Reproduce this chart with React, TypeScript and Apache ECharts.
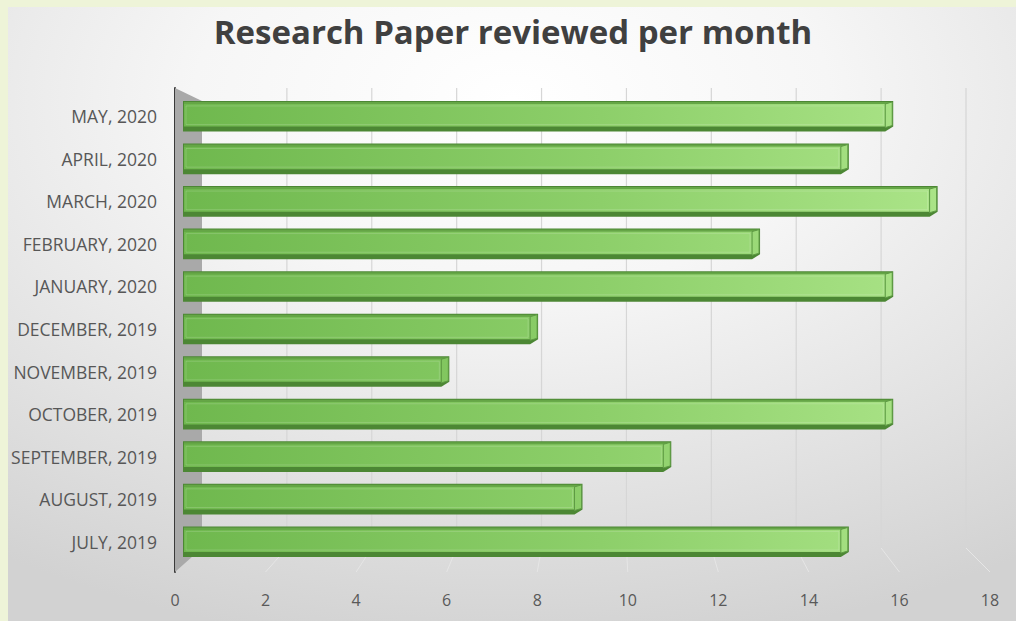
import React, { useEffect, useRef } from "react";
import * as echarts from "echarts";

const TITLE = "Research Paper reviewed per month";
const MONTHS = [
  "JULY, 2019",
  "AUGUST, 2019",
  "SEPTEMBER, 2019",
  "OCTOBER, 2019",
  "NOVEMBER, 2019",
  "DECEMBER, 2019",
  "JANUARY, 2020",
  "FEBRUARY, 2020",
  "MARCH, 2020",
  "APRIL, 2020",
  "MAY, 2020",
];
const PAPERS = [15, 9, 11, 16, 6, 8, 16, 13, 17, 15, 16];
const X_TICKS = [0, 2, 4, 6, 8, 10, 12, 14, 16, 18];
const X_MAX = 18;

const FONT = "'Open Sans', Lato, sans-serif";

export default function App() {
  const ref = useRef<HTMLDivElement>(null);

  useEffect(() => {
    if (!ref.current) return;
    const chart = echarts.init(ref.current, undefined, { renderer: "svg" });

    const option: any = {
      animation: false,
      backgroundColor: "#eef4d8",
      title: {
        text: TITLE,
        left: 508,
        textAlign: "center",
        top: 10,
        textStyle: {
          fontFamily: FONT,
          fontWeight: "bold",
          fontSize: 33,
          color: "#404040",
        },
      },
      graphic: {
        elements: [
          {
            id: "panel",
            type: "rect",
            z: -10,
            silent: true,
            shape: { x: 8, y: 7, width: 1008, height: 614 },
            style: {
              fill: new echarts.graphic.RadialGradient(0.5, 0.15, 0.9, [
                { offset: 0, color: "#ffffff" },
                { offset: 0.35, color: "#f6f6f6" },
                { offset: 0.75, color: "#e0e0e0" },
                { offset: 1, color: "#d2d2d2" },
              ]),
            },
          },
          {
            id: "wall",
            type: "polygon",
            z: 1,
            silent: true,
            shape: {
              points: [
                [175, 88],
                [202, 101],
                [202, 548],
                [175, 572],
              ],
            },
            style: { fill: "#a9a9a9" },
          },
        ],
      },
      grid: [
        // bars + category labels
        { left: 183, right: 34, top: 95, bottom: 58 },
        // front value axis labels + axis line
        { left: 175, right: 26, top: 88, bottom: 49 },
        // back wall gridlines
        { left: 202, right: 50, top: 88, bottom: 73 },
      ],
      xAxis: [
        {
          gridIndex: 0,
          type: "value",
          min: 0,
          max: X_MAX,
          show: false,
        },
        {
          gridIndex: 1,
          type: "value",
          min: 0,
          max: X_MAX,
          interval: 2,
          axisLine: { show: false },
          axisTick: { show: false },
          splitLine: { show: false },
          axisLabel: {
            margin: 20,
            fontFamily: FONT,
            fontSize: 16,
            color: "#595959",
          },
        },
        {
          gridIndex: 2,
          type: "value",
          min: 0,
          max: X_MAX,
          interval: 2,
          show: false,
        },
      ],
      yAxis: [
        {
          gridIndex: 0,
          type: "category",
          data: MONTHS,
          axisLine: { show: false },
          axisTick: { show: false },
          splitLine: { show: false },
          axisLabel: {
            margin: 26,
            fontFamily: FONT,
            fontSize: 17.5,
            color: "#575757",
          },
        },
        {
          gridIndex: 1,
          type: "value",
          min: 0,
          max: 1,
          axisLine: { show: true, lineStyle: { color: "#3a3a3a", width: 2 } },
          axisTick: { show: false },
          axisLabel: { show: false },
          splitLine: { show: false },
        },
        {
          gridIndex: 2,
          type: "value",
          min: 0,
          max: 1,
          show: false,
        },
      ],
      series: [
        {
          type: "custom",
          name: "gridlines",
          xAxisIndex: 2,
          yAxisIndex: 2,
          z: 1,
          silent: true,
          data: X_TICKS.slice(1).map((v) => [v]),
          encode: { x: 0 },
          renderItem: (params: any, api: any) => {
            const v = api.value(0);
            const top = api.coord([v, 1]);
            const bot = api.coord([v, 0]);
            return {
              type: "line",
              shape: { x1: top[0], y1: top[1], x2: bot[0], y2: bot[1] },
              style: { stroke: "#d6d6d6", lineWidth: 1.2 },
            };
          },
        },
        {
          type: "custom",
          name: "Papers",
          xAxisIndex: 0,
          yAxisIndex: 0,
          z: 3,
          data: PAPERS.map((v, i) => [v, MONTHS[i]]),
          encode: { x: 0, y: 1 },
          renderItem: (params: any, api: any) => {
            const v = api.value(0);
            const ci = api.value(1);
            const p1 = api.coord([v, ci]);
            const p0 = api.coord([0, ci]);
            const gStart = p0[0];
            const gEnd = api.coord([X_MAX, ci])[0];
            const band = api.size([0, 1])[1];
            const h = band * 0.72;
            const x0 = p0[0];
            const x1 = p1[0];
            const yc = p1[1];
            const top = yc - h / 2;
            const bot = yc + h / 2;
            const d = 8;
            const t = 3;
            const sh = 5;
            const frontFill = new echarts.graphic.LinearGradient(
              gStart,
              0,
              gEnd - 40,
              0,
              [
                { offset: 0, color: "#6fb84e" },
                { offset: 0.55, color: "#8dcf6a" },
                { offset: 1, color: "#abe488" },
              ],
              true
            );
            return {
              type: "group",
              children: [
                {
                  type: "polygon",
                  shape: {
                    points: [
                      [x0, top],
                      [x1, top],
                      [x1, bot - sh],
                      [x1 - d, bot],
                      [x0, bot],
                    ],
                  },
                  style: { fill: "#4c8734" },
                },
                {
                  type: "polygon",
                  shape: {
                    points: [
                      [x0 + 1, top + 1],
                      [x1 - 1, top + 1],
                      [x1 - d, top + t],
                      [x0 + 1, top + t],
                    ],
                  },
                  style: { fill: "#65a646" },
                },
                {
                  type: "rect",
                  shape: {
                    x: x0 + 1,
                    y: top + t,
                    width: Math.max(0, x1 - d - x0 - 1),
                    height: h - t - sh,
                  },
                  style: { fill: frontFill },
                },
                {
                  type: "rect",
                  shape: {
                    x: x0 + 3,
                    y: top + t + 2,
                    width: Math.max(0, x1 - d - x0 - 5),
                    height: h - t - sh - 4,
                  },
                  style: {
                    fill: "none",
                    stroke: "rgba(255,255,255,0.16)",
                    lineWidth: 1,
                  },
                },
                {
                  type: "polygon",
                  shape: {
                    points: [
                      [x1 - d, top + t],
                      [x1 - 1, top + 1],
                      [x1 - 1, bot - sh - 1],
                      [x1 - d, bot - sh + 1],
                    ],
                  },
                  style: { fill: frontFill, stroke: "#5e9a44", lineWidth: 1 },
                },
              ],
            };
          },
        },
      ],
    };

    chart.setOption(option);

    // floor segments of the gridlines: from the back wall down to the front axis
    try {
      const floor: any[] = [];
      X_TICKS.slice(1).forEach((v, i) => {
        const b = chart.convertToPixel({ xAxisIndex: 2, yAxisIndex: 2 } as any, [v, 0]) as any;
        const f = chart.convertToPixel({ xAxisIndex: 1, yAxisIndex: 1 } as any, [v, 0]) as any;
        if (b && f) {
          floor.push({
            id: "floor" + i,
            type: "line",
            z: 1,
            silent: true,
            shape: { x1: b[0], y1: b[1], x2: f[0], y2: f[1] },
            style: { stroke: "#e6e6e6", lineWidth: 1 },
          });
        }
      });
      if (floor.length) chart.setOption({ graphic: { elements: floor } });
    } catch (e) {
      /* ignore */
    }

    return () => chart.dispose();
  }, []);

  return (
    <div
      ref={ref}
      style={{ position: "fixed", left: 0, top: 0, width: 1016, height: 621 }}
    />
  );
}
